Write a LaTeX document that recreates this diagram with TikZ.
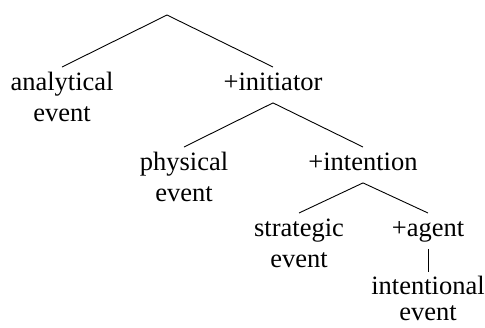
\documentclass[tikz,border=0pt]{standalone}
\usepackage{fontspec}
\setmainfont{Liberation Serif}
\newfontfamily\treefont{Liberation Serif}
\begin{document}
\begin{tikzpicture}[x=1pt,y=-1pt,line width=0.9pt,
  lbl/.style={anchor=north,inner xsep=0pt,inner ysep=5pt,align=center,
    font=\treefont\fontsize{26.5}{31}\selectfont},
  inner/.style={lbl,text height=18pt,text depth=7pt},
  leaf/.style={lbl}]
\useasboundingbox (0,0) rectangle (485,327);
\coordinate (root) at (167,15);
\node[leaf]  (ana)   at (62,67)   {\rule{0pt}{18pt}analytical\\event};
\node[inner] (init)  at (273,67)  {+initiator};
\node[leaf]  (phys)  at (184,147) {\rule{0pt}{18pt}physical\\event};
\node[inner] (intn)  at (363,147) {+intention};
\node[leaf]  (strat) at (299,213) {\rule{0pt}{18pt}strategic\\event};
\node[inner] (agent) at (428,213) {+agent};
\node[leaf,inner ysep=0pt,text depth=0pt] (intl) at (428,276)
  {\rule{0pt}{18pt}intentional\\[-5pt]event};
\draw (ana.north) -- (root) -- (init.north);
\draw (phys.north) -- (init.south) -- (intn.north);
\draw (strat.north) -- (intn.south) -- (agent.north);
\draw[shorten >=4pt] (agent.south) -- (intl.north);
\end{tikzpicture}
\end{document}
